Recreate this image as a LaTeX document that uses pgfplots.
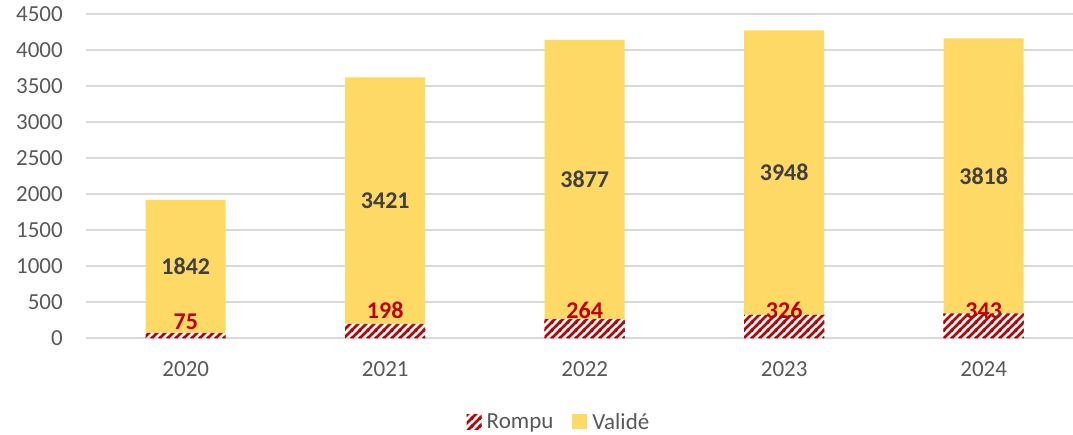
\documentclass[border=0pt]{standalone}
\usepackage{pgfplots}
\pgfplotsset{compat=1.18}
\usepackage{fontspec}
\setmainfont{Carlito}
\usetikzlibrary{patterns}
\pgfdeclarepatternformonly{thickstripes}{\pgfqpoint{-1pt}{-1pt}}{\pgfqpoint{9pt}{9pt}}{\pgfqpoint{8pt}{8pt}}{%
  \pgfsetlinewidth{2.8pt}%
  \pgfpathmoveto{\pgfqpoint{-1pt}{-1pt}}\pgfpathlineto{\pgfqpoint{9pt}{9pt}}%
  \pgfpathmoveto{\pgfqpoint{-1pt}{7pt}}\pgfpathlineto{\pgfqpoint{1pt}{9pt}}%
  \pgfpathmoveto{\pgfqpoint{7pt}{-1pt}}\pgfpathlineto{\pgfqpoint{9pt}{1pt}}%
  \pgfusepath{stroke}}
\definecolor{gold}{HTML}{FFD966}
\definecolor{dred}{HTML}{C00000}
\definecolor{lbl}{HTML}{404040}
\definecolor{tickc}{HTML}{595959}
\definecolor{gridc}{HTML}{D9D9D9}
\tikzset{vlab/.style={font=\fontsize{24}{28}\selectfont\bfseries, text=lbl},
  rlab/.style={font=\fontsize{24}{28}\selectfont\bfseries, text=dred}}
\begin{document}
\begin{tikzpicture}
\path[use as bounding box] (-86pt,-96pt) rectangle (987pt,338pt);
\begin{axis}[
  at={(0,0)}, anchor=south west,
  scale only axis, width=987.5pt, height=324pt,
  ybar stacked, reverse stacked plots=false, bar width=80pt,
  xmin=-0.5, xmax=4.45, ymin=0, ymax=4500,
  xtick={0,1,2,3,4}, xticklabels={2020,2021,2022,2023,2024},
  ytick={0,500,...,4500},
  axis line style={draw=none}, major tick length=0pt,
  ymajorgrids, grid style={gridc, line width=1.2pt},
  tick label style={font=\fontsize{23}{27}\selectfont, text=tickc},
  /pgf/number format/assume math mode=true,
  /pgf/number format/1000 sep={},
  yticklabel style={inner sep=0pt, xshift=-23pt},
  xticklabel style={inner sep=0pt, yshift=-23pt},
  legend style={at={(0.479,-0.259)}, anchor=center, draw=none,
    legend columns=-1, font=\fontsize{23}{27}\selectfont, text=tickc,
    /tikz/every odd column/.append style={column sep=3pt},
    /tikz/every even column/.append style={column sep=17pt}},
  legend image code/.code={\path[#1, draw=none] (0pt,-7.5pt) rectangle (15pt,7.5pt);},
]
\addplot[draw=none, pattern=thickstripes, pattern color=dred]
  coordinates {(0,75) (1,198) (2,264) (3,326) (4,343)};
\addplot[fill=gold, draw=none]
  coordinates {(0,1842) (1,3421) (2,3877) (3,3948) (4,3818)};
\legend{Rompu, Validé}
\node[vlab] at (axis cs:0,996) {1842};
\node[vlab] at (axis cs:1,1908) {3421};
\node[vlab] at (axis cs:2,2202) {3877};
\node[vlab] at (axis cs:3,2300) {3948};
\node[vlab] at (axis cs:4,2252) {3818};
\node[rlab] at (axis cs:0,222) {75};
\node[rlab] at (axis cs:1,380) {198};
\node[rlab] at (axis cs:2,380) {264};
\node[rlab] at (axis cs:3,380) {326};
\node[rlab] at (axis cs:4,380) {343};
\end{axis}
\end{tikzpicture}
\end{document}
